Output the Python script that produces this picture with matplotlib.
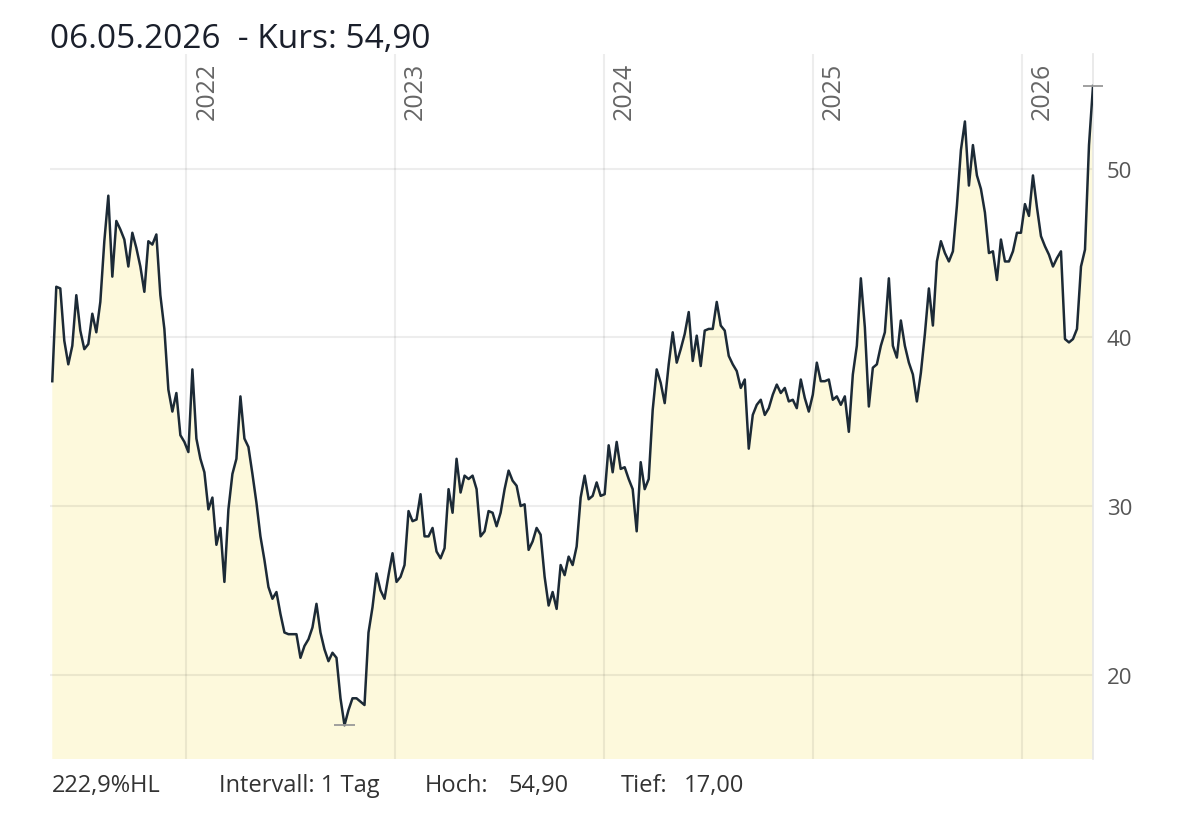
import numpy as np
import pandas as pd
import matplotlib
matplotlib.use("Agg")
import matplotlib.pyplot as plt

# ── Kursdaten (Wochenschluss) ──
last_day = "2026-05-06"
prices = [
    37.4, 43.0, 42.9, 39.8, 38.4, 39.5, 42.5, 40.4, 39.3, 39.6,
    41.4, 40.3, 42.1, 45.7, 48.4, 43.6, 46.9, 46.4, 45.8, 44.2,
    46.2, 45.3, 44.2, 42.7, 45.7, 45.5, 46.1, 42.5, 40.5, 36.9,
    35.6, 36.7, 34.2, 33.8, 33.2, 38.1, 34.0, 32.8, 32.0, 29.8,
    30.5, 27.7, 28.7, 25.5, 29.8, 31.9, 32.8, 36.5, 34.0, 33.5,
    31.9, 30.2, 28.2, 26.8, 25.2, 24.5, 24.9, 23.6, 22.5, 22.4,
    22.4, 22.4, 21.0, 21.7, 22.1, 22.8, 24.2, 22.5, 21.5, 20.8,
    21.3, 21.0, 18.6, 17.0, 17.9, 18.6, 18.6, 18.4, 18.2, 22.5,
    24.0, 26.0, 25.0, 24.5, 25.9, 27.2, 25.5, 25.8, 26.5, 29.7,
    29.1, 29.2, 30.7, 28.2, 28.2, 28.7, 27.3, 26.9, 27.5, 31.0,
    29.6, 32.8, 30.8, 31.8, 31.6, 31.8, 31.0, 28.2, 28.5, 29.7,
    29.6, 28.8, 29.6, 31.0, 32.1, 31.5, 31.2, 30.0, 30.1, 27.4,
    27.9, 28.7, 28.3, 25.8, 24.1, 24.9, 23.9, 26.5, 25.9, 27.0,
    26.5, 27.6, 30.5, 31.8, 30.4, 30.6, 31.4, 30.6, 30.7, 33.6,
    32.0, 33.8, 32.2, 32.3, 31.6, 31.0, 28.5, 32.6, 31.0, 31.6,
    35.7, 38.1, 37.3, 36.1, 38.4, 40.3, 38.5, 39.3, 40.2, 41.5,
    38.6, 40.1, 38.3, 40.4, 40.5, 40.5, 42.1, 40.7, 40.4, 38.9,
    38.4, 38.0, 37.0, 37.5, 33.4, 35.4, 36.0, 36.3, 35.4, 35.8,
    36.6, 37.2, 36.7, 37.0, 36.2, 36.3, 35.8, 37.5, 36.4, 35.6,
    36.6, 38.5, 37.4, 37.4, 37.5, 36.3, 36.5, 36.0, 36.5, 34.4,
    37.8, 39.5, 43.5, 40.6, 35.9, 38.2, 38.4, 39.5, 40.3, 43.5,
    39.5, 38.8, 41.0, 39.5, 38.5, 37.8, 36.2, 37.9, 40.2, 42.9,
    40.7, 44.5, 45.7, 45.0, 44.5, 45.1, 47.8, 51.1, 52.8, 49.0,
    51.4, 49.6, 48.8, 47.4, 45.0, 45.1, 43.4, 45.8, 44.5, 44.5,
    45.1, 46.2, 46.2, 47.9, 47.2, 49.6, 47.7, 46.0, 45.4, 44.9,
    44.2, 44.7, 45.1, 39.9, 39.7, 39.9, 40.5, 44.2, 45.2, 51.4,
    54.9,
]
years = [2022, 2023, 2024, 2025, 2026]
y_ticks = [20, 30, 40, 50]
interval_label = "Intervall: 1 Tag"

dates = pd.date_range(end=last_day, periods=len(prices), freq="7D")
hi, lo = max(prices), min(prices)
hi_date = dates[prices.index(hi)]
lo_date = dates[prices.index(lo)]


def de(v):
    return f"{v:.2f}".replace(".", ",")


FONT = "Open Sans"
W, H = 1192, 820
fig = plt.figure(figsize=(W / 100, H / 100), dpi=100)
ax = fig.add_axes([50 / W, 60 / H, (1093 - 50) / W, 705 / H])

ax.fill_between(dates, prices, 0, color="#fdf9dc", lw=0, zorder=1)
for y in y_ticks:
    ax.axhline(y, color="black", alpha=0.07, lw=1.5, zorder=2)
for yr in years:
    ax.axvline(pd.Timestamp(f"{yr}-01-01"), color="black", alpha=0.07, lw=1.5, zorder=2)
ax.plot(dates, prices, color="#1c2a36", lw=1.8, zorder=3)

# Hoch / Tief Markierungen
span = pd.Timedelta(days=18)
ax.hlines(hi, hi_date - span, hi_date + span, color="#999999", lw=1.3, zorder=4, clip_on=False)
ax.hlines(lo, lo_date - span, lo_date + span, color="#999999", lw=1.3, zorder=4, clip_on=False)

ax.set_xlim(dates[0] - pd.Timedelta(days=4), dates[-1])
ax.set_ylim(15.0, 56.8)
ax.set_xticks([])
ax.set_yticks(y_ticks)
ax.yaxis.tick_right()
ax.tick_params(axis="y", length=0, pad=10, labelsize=16, labelcolor="#555555")
for lab in ax.get_yticklabels():
    lab.set_family(FONT)
for side in ["top", "left", "bottom"]:
    ax.spines[side].set_visible(False)
ax.spines["right"].set_color("#e6e6e6")
ax.spines["right"].set_linewidth(1.2)

for yr in years:
    ax.annotate(str(yr), xy=(pd.Timestamp(f"{yr}-01-01"), 1), xycoords=("data", "axes fraction"),
                xytext=(6.0, -5.5), textcoords="offset points", rotation=90,
                ha="left", va="top", fontsize=18, color="#666666", family=FONT)

fig.text(50 / W, 1 - 48 / H, f"{dates[-1]:%d.%m.%Y}  - Kurs: {de(prices[-1])}",
         fontsize=24, va="baseline", color="#1a1f2b", family=FONT)

hl_pct = f"{(hi - lo) / lo * 100:.1f}".replace(".", ",") + "%HL"
footer = [(52, hl_pct), (219, interval_label), (425, "Hoch:"), (509, de(hi)),
          (621, "Tief:"), (684, de(lo))]
for px, txt in footer:
    fig.text(px / W, 1 - 792 / H, txt, fontsize=17, va="baseline", color="#333333", family=FONT)

fig.savefig("out.png", dpi=100)
